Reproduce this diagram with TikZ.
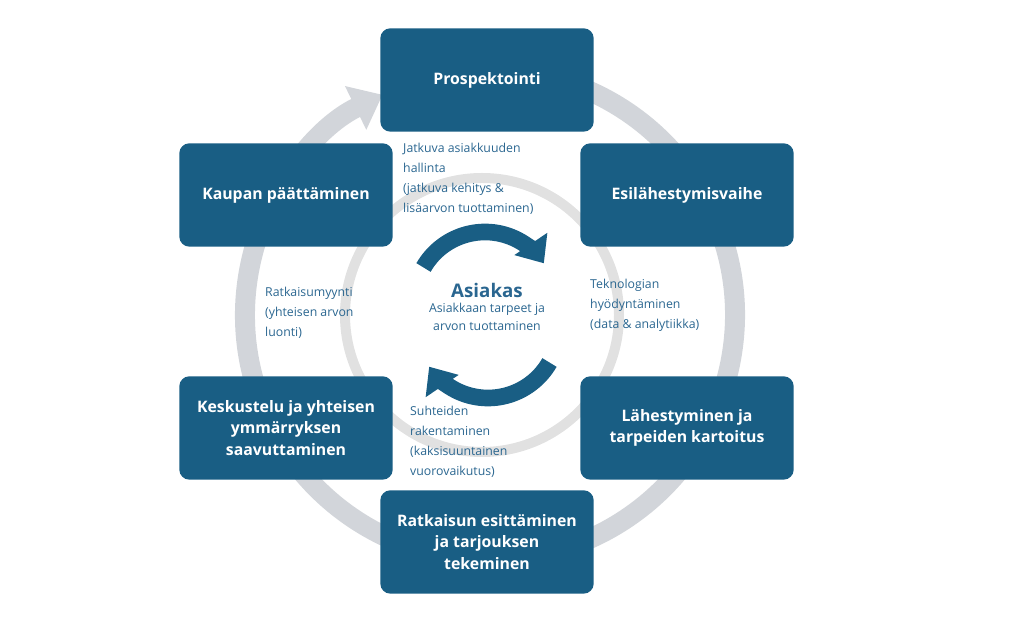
\documentclass[tikz,border=0pt]{standalone}
\usepackage{fontspec}
\setmainfont{Open Sans}
\usetikzlibrary{arrows.meta}
\usetikzlibrary{positioning}
\definecolor{stageblue}{HTML}{195E84}
\definecolor{labelblue}{HTML}{2A6690}
\definecolor{ringgrey}{HTML}{D2D5DA}
\definecolor{innergrey}{HTML}{E1E1E1}
\tikzset {
  % phase of the sales process
  stage/.style = {
    fill = stageblue,
    rounded corners = 0.3cm,
    minimum width = 6.4cm,
    minimum height = 3.1cm,
    align = center,
    text = white,
    font = \fontsize{13.5}{18}\selectfont\bfseries
  },
  % small explanation text
  note/.style = {
    anchor = north west,
    align = left,
    text = labelblue,
    inner sep = 0,
    font = \fontsize{10.5}{17}\selectfont
  },
  % grey cycle rings
  ring/.style = {
    draw = ringgrey,
    line width = 0.6cm
  },
  inner ring/.style = {
    draw = innergrey,
    line width = 0.3cm
  },
  % arrows round the customer
  turn/.style = {
    draw = stageblue,
    line width = 0.5cm,
    -{Triangle[length=0.7cm,width=1.15cm]}
  }
}
\begin{document}
\begin{tikzpicture}[x=0.03cm, y=0.03cm]
  \useasboundingbox (0,0) rectangle (1024,620);
  \coordinate (hub) at (490,305);
  \coordinate (core) at (482,305);

  \draw[ring, -{Triangle[length=0.9cm,width=1.4cm]}]
    (hub) ++(80:245) arc[start angle=80, end angle=-244, radius=245];
  \draw[inner ring] (core) circle[radius=137];

  \node[stage] (prosp) at (487,540) {Prospektointi};
  \node[stage] (esi) at (687,425) {Esilähestymisvaihe};
  \node[stage] (lahest) at (687,192) {Lähestyminen ja\\tarpeiden kartoitus};
  \node[stage] (ratk) at (487,78) {Ratkaisun esittäminen\\ja tarjouksen\\tekeminen};
  \node[stage] (keskus) at (286,192) {Keskustelu ja yhteisen\\ymmärryksen\\saavuttaminen};
  \node[stage] (kaupan) at (286,425) {Kaupan päättäminen};

  \node[note] (jatkuva) at (403,477) {Jatkuva asiakkuuden\\hallinta\\(jatkuva kehitys \&\\lisäarvon tuottaminen)};
  \node[note] (tekno) at (590,341) {Teknologian\\hyödyntäminen\\(data \& analytiikka)};
  \node[note] (myynti) at (265,333) {Ratkaisumyynti\\(yhteisen arvon\\luonti)};
  \node[note] (suhteet) at (410,214) {Suhteiden\\rakentaminen\\(kaksisuuntainen\\vuorovaikutus)};

  \node[text=labelblue, font=\fontsize{16}{18}\selectfont\bfseries] (asiakas) at (487,330) {Asiakas};
  \node[text=labelblue, align=center, inner sep=0,
    font=\fontsize{10.5}{15.5}\selectfont, below=0.05cm of asiakas] (tarpeet)
    {Asiakkaan tarpeet ja\\arvon tuottaminen};

  \draw[turn] (485,317) ++(150:71) arc[start angle=150, end angle=34, radius=71];
  \draw[turn] (488,293) ++(-30:71) arc[start angle=-30, end angle=-146, radius=71];
\end{tikzpicture}
\end{document}
